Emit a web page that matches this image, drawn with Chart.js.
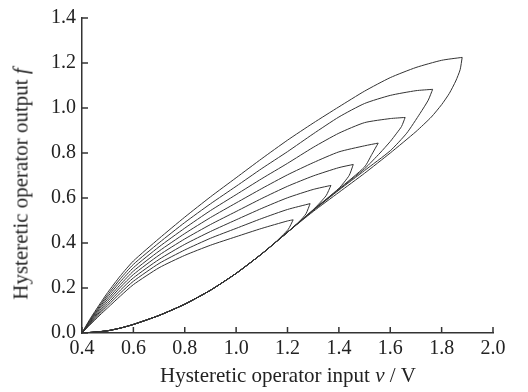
<!DOCTYPE html>
<html>
<head>
<meta charset="utf-8">
<script src="https://cdn.jsdelivr.net/npm/chart.js@4.4.0/dist/chart.umd.min.js"></script>
<style>
  body { margin: 0; background: #fff; }
  #wrap { position: relative; width: 528px; height: 392px; }
  .ttl { position: absolute; font-family: 'Liberation Serif', 'Times New Roman', serif; font-size: 21px; color: #222; white-space: nowrap; line-height: 1; }
  #xTitle { left: 288px; top: 365px; transform: translateX(-50%); }
  #yTitle { left: 21px; top: 184px; transform: translate(-50%, -50%) rotate(-90deg); transform-origin: center; }
</style>
</head>
<body>
<div id="wrap">
  <canvas id="hysChart" width="528" height="392"></canvas>
  <div class="ttl" id="xTitle">Hysteretic operator input <i>ν</i> / V</div>
  <div class="ttl" id="yTitle">Hysteretic operator output <i>f</i></div>
</div>
<script>
// common ascending curve (all loops start here)
const lowerV = [0.4, 0.45, 0.5, 0.55, 0.6, 0.7, 0.8, 0.9, 1.0, 1.1, 1.2];
const lowerF = [0, 0.004, 0.01, 0.022, 0.038, 0.078, 0.128, 0.19, 0.265, 0.352, 0.448];

// loop turning points
const tipV = [1.222, 1.288, 1.369, 1.456, 1.553, 1.658, 1.765, 1.88];
const tipF = [0.503, 0.575, 0.656, 0.749, 0.844, 0.958, 1.083, 1.225];

// where each loop leaves the common curve, and its points up to the tip
const hookV = [
    [1.15, 1.203],
    [1.25, 1.272],
    [1.3, 1.35],
    [1.3, 1.4, 1.44],
    [1.3, 1.4, 1.5, 1.528],
    [1.3, 1.4, 1.5, 1.56, 1.6, 1.625, 1.644],
    [1.3, 1.4, 1.5, 1.6, 1.664, 1.716, 1.748],
    [1.3, 1.4, 1.5, 1.6, 1.7, 1.76, 1.8, 1.83, 1.855, 1.872]
];
const hookF = [
    [0.40, 0.461],
    [0.50, 0.53],
    [0.548, 0.61],
    [0.547, 0.643, 0.70],
    [0.546, 0.64, 0.738, 0.793],
    [0.545, 0.638, 0.73, 0.80, 0.851, 0.888, 0.918],
    [0.544, 0.635, 0.722, 0.81, 0.888, 0.976, 1.035],
    [0.54, 0.625, 0.71, 0.80, 0.895, 0.96, 1.015, 1.065, 1.12, 1.17]
];

// descending branches, read on a common input grid
const upperV = [0.4, 0.43, 0.47, 0.5, 0.55, 0.6, 0.7, 0.8, 0.9, 1.0, 1.1, 1.2, 1.3, 1.4, 1.5, 1.6, 1.7, 1.8];
const upper1 = [0, 0.035, 0.080, 0.112, 0.165, 0.215, 0.290, 0.345, 0.390, 0.428, 0.465, 0.498];
const upper2 = [0, 0.039, 0.087, 0.122, 0.178, 0.230, 0.309, 0.369, 0.421, 0.465, 0.509, 0.549];
const upper3 = [0, 0.042, 0.094, 0.131, 0.191, 0.245, 0.327, 0.394, 0.451, 0.503, 0.554, 0.601, 0.638];
const upper4 = [0, 0.046, 0.101, 0.141, 0.204, 0.260, 0.346, 0.418, 0.482, 0.540, 0.598, 0.652, 0.698, 0.735];
const upper5 = [0, 0.049, 0.109, 0.151, 0.216, 0.275, 0.364, 0.442, 0.513, 0.578, 0.642, 0.703, 0.757, 0.805, 0.832];
const upper6 = [0, 0.053, 0.116, 0.161, 0.229, 0.290, 0.383, 0.466, 0.544, 0.615, 0.686, 0.754, 0.825, 0.888, 0.935, 0.953];
const upper7 = [0, 0.056, 0.123, 0.170, 0.242, 0.305, 0.401, 0.491, 0.574, 0.652, 0.731, 0.806, 0.885, 0.960, 1.020, 1.056, 1.077];
const upper8 = [0, 0.060, 0.130, 0.180, 0.255, 0.320, 0.420, 0.515, 0.605, 0.690, 0.775, 0.857, 0.933, 1.005, 1.075, 1.135, 1.180, 1.212];
const upperF = [upper1, upper2, upper3, upper4, upper5, upper6, upper7, upper8];

const xTicks = [0.4, 2.0, 0.2];
const yTicks = [0, 1.4, 0.2];

const lineColor = '#333';
const datasets = [];
for (let k = 0; k < tipV.length; k++) {
    const rise = [];
    for (let i = 0; i < lowerV.length; i++) {
        if (lowerV[i] < hookV[k][0]) rise.push({ x: lowerV[i], y: lowerF[i] });
    }
    hookV[k].forEach((v, i) => rise.push({ x: v, y: hookF[k][i] }));
    rise.push({ x: tipV[k], y: tipF[k] });

    const fall = [{ x: tipV[k], y: tipF[k] }];
    for (let i = upperF[k].length - 1; i >= 0; i--) {
        fall.push({ x: upperV[i], y: upperF[k][i] });
    }

    [rise, fall].forEach(pts => {
        datasets.push({
            data: pts,
            showLine: true,
            borderColor: lineColor,
            borderWidth: 1,
            pointRadius: 0,
            tension: 0.2,
            fill: false
        });
    });
}

const innerTicks = {
    id: 'innerTicks',
    afterDraw(chart) {
        const { ctx, chartArea, scales } = chart;
        ctx.save();
        ctx.strokeStyle = '#333';
        ctx.lineWidth = 1.5;
        scales.x.ticks.forEach(t => {
            const px = scales.x.getPixelForValue(t.value);
            ctx.beginPath();
            ctx.moveTo(px, chartArea.bottom);
            ctx.lineTo(px, chartArea.bottom - 6);
            ctx.stroke();
        });
        scales.y.ticks.forEach(t => {
            const py = scales.y.getPixelForValue(t.value);
            ctx.beginPath();
            ctx.moveTo(chartArea.left, py);
            ctx.lineTo(chartArea.left + 6, py);
            ctx.stroke();
        });
        ctx.restore();
    }
};

const tickFont = { family: "'Liberation Serif', 'Times New Roman', serif", size: 20 };

new Chart(document.getElementById('hysChart'), {
    type: 'scatter',
    data: { datasets: datasets },
    options: {
        responsive: false,
        animation: false,
        layout: { padding: { left: 0, top: 16, right: 35, bottom: 0 } },
        plugins: { legend: { display: false }, tooltip: { enabled: false } },
        scales: {
            x: {
                type: 'linear',
                min: xTicks[0],
                max: xTicks[1],
                grid: { drawOnChartArea: false, drawTicks: false },
                border: { color: '#333', width: 1.5 },
                ticks: {
                    stepSize: xTicks[2],
                    padding: 4,
                    color: '#222',
                    font: tickFont,
                    maxRotation: 0,
                    autoSkip: false,
                    callback: v => v.toFixed(1)
                },
                afterFit: s => { s.height = 59; }
            },
            y: {
                type: 'linear',
                min: yTicks[0],
                max: yTicks[1],
                grid: { drawOnChartArea: false, drawTicks: false },
                border: { color: '#333', width: 1.5 },
                ticks: {
                    stepSize: yTicks[2],
                    padding: 6,
                    color: '#222',
                    font: tickFont,
                    callback: v => v.toFixed(1)
                },
                afterFit: s => { s.width = 82; }
            }
        }
    },
    plugins: [innerTicks]
});
</script>
</body>
</html>
